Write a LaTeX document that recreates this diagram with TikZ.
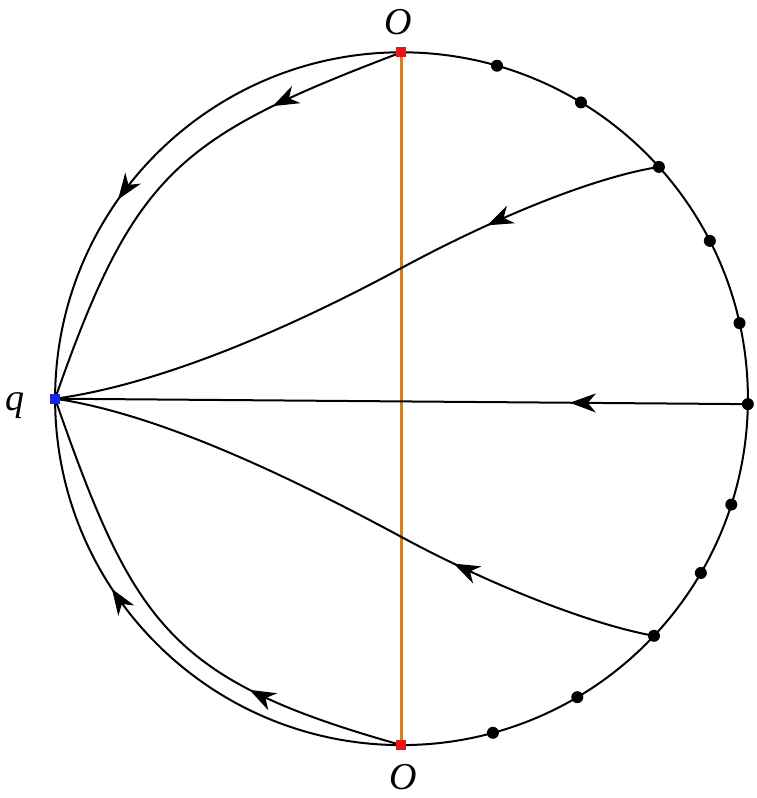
\documentclass[tikz,border=0pt]{standalone}
\usepackage{fontspec}
\setmainfont{Liberation Serif}
\usetikzlibrary{arrows.meta,decorations.markings}

\definecolor{axisorange}{RGB}{200,130,50}
\definecolor{sqred}{RGB}{235,20,20}
\definecolor{sqblue}{RGB}{20,40,230}

\tikzset{
  flow/.style={postaction={decorate},
    decoration={markings,mark=at position #1 with {\arrow{Stealth[length=26pt,width=19pt,inset=8pt]}}}},
  orbit/.style={line width=2pt},
  endsq/.style={draw=none,fill=#1,rectangle,minimum size=10pt,inner sep=0pt},
  bead/.style={draw=none,fill=black,circle,minimum size=12pt,inner sep=0pt},
  lab/.style={font=\fontsize{38}{40}\selectfont\itshape,inner sep=0pt,anchor=base},
}

\begin{document}
\begin{tikzpicture}[x=1pt,y=1pt]
      % Define the radius of the circle
      \def\R{346.4}
      \useasboundingbox (-401.5,-399.3) rectangle (354.5,398.7);

      % Define the points
      \coordinate (Ot) at (90:\R);
      \coordinate (Ob) at (270:\R);
      \coordinate (q) at (180:\R);
      \foreach \a [count=\i] in {74,58.8,42,27.1,12.6,-0.9,-17.8,-30.2,-43.2,-59.5,-74.7}
        \coordinate (p\i) at (\a:\R);

      % Draw the circle
      \draw[orbit] (Ot) arc[start angle=90,end angle=-90,radius=\R];
      \draw[orbit,flow=0.61] (Ot) arc[start angle=90,end angle=180,radius=\R];
      \draw[orbit,flow=0.63] (Ob) arc[start angle=270,end angle=180,radius=\R];

      % Draw the vertical line
      \draw[draw=axisorange,line width=2.6pt] (Ot) -- (Ob);

      % Draw the trajectories into q
      \draw[orbit,flow=0.27] (Ot) .. controls (-224.4,261.2) and (-267.3,226) .. (q);
      \draw[orbit,flow=0.31] (Ob) .. controls (-231,-281.5) and (-267.3,-227.2) .. (q);
      \draw[orbit,flow=0.28] (p3) .. controls (190,221) and (90,179.3) .. (0,130.7)
        .. controls (-120,65.9) and (-246.5,13.4) .. (q);
      \draw[orbit,flow=0.33] (p9) .. controls (190,-226) and (90,-186.9) .. (0,-138.3)
        .. controls (-120,-73.5) and (-246.5,-14.6) .. (q);
      \draw[orbit,flow=0.257] (p6) -- (q);

      % Draw the points
      \node[endsq=sqred] (Otop) at (Ot) {};
      \node[endsq=sqred] (Obot) at (Ob) {};
      \node[endsq=sqblue] (qpt) at (q) {};
      \foreach \i in {1,...,11}
        \node[bead] (b\i) at (p\i) {};

      % Labels
      \node[lab] (lOt) at (-3,364.5) {O};
      \node[lab] (lOb) at (2,-390.5) {O};
      \node[lab] (lq) at (-386,-12.3) {q};
    \end{tikzpicture}
\end{document}
